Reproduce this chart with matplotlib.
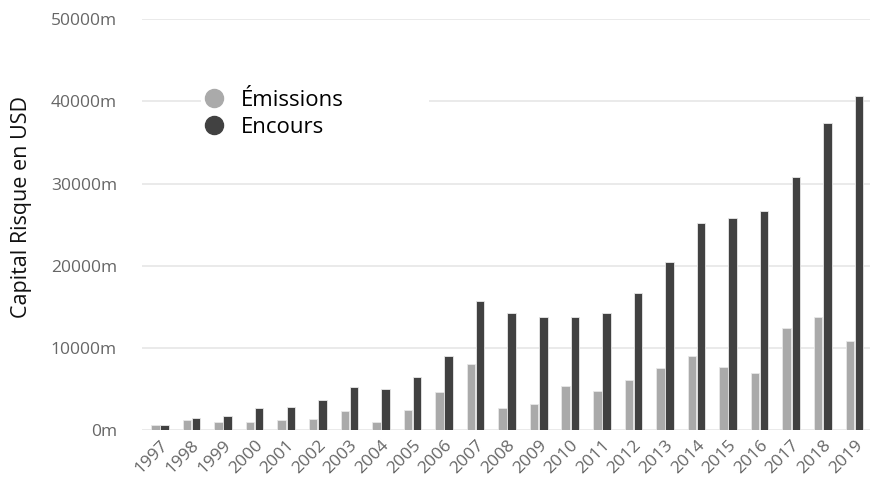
import matplotlib
matplotlib.use("Agg")
import matplotlib.pyplot as plt
from matplotlib.lines import Line2D
from matplotlib.ticker import FuncFormatter
import numpy as np

plt.rcParams['font.family'] = ['Open Sans', 'DejaVu Sans']

years = [str(y) for y in range(1997, 2020)]

# values in millions USD
emissions = [600, 1200, 1000, 1000, 1200, 1300, 2300, 1000, 2400, 4600, 8100,
             2650, 3150, 5350, 4800, 6100, 7550, 9000, 7700, 7000, 12450,
             13700, 10850]
encours = [600, 1500, 1700, 2700, 2800, 3700, 5200, 5000, 6400, 9000, 15750,
           14300, 13700, 13700, 14300, 16700, 20500, 25200, 25850, 26600,
           30800, 37400, 40700]

c_emis = '#aaaaaa'
c_enc = '#414141'


def main():

    fig = plt.figure(figsize=(8.71, 4.8), dpi=100)
    ax = fig.add_axes([0.163, 0.104, 0.836, 0.856])

    x = np.arange(len(years))
    w = 0.27

    ax.bar(x - w / 2 - 0.01, emissions, width=w, color=c_emis,
           edgecolor='#e8e8e8', linewidth=0.6, zorder=3)
    ax.bar(x + w / 2 + 0.01, encours, width=w, color=c_enc,
           edgecolor='#e8e8e8', linewidth=0.6, zorder=3)

    ax.set_ylim(0, 50000)
    ax.set_xlim(-0.57, 22.5)
    ax.set_yticks(np.arange(0, 50001, 10000))
    ax.yaxis.set_major_formatter(FuncFormatter(lambda v, p: f'{int(v)}m'))
    ax.grid(axis='y', color='#e6e6e6', linewidth=1.2, zorder=0)
    ax.set_axisbelow(True)

    ax.set_xticks(x)
    ax.set_xticklabels(years, rotation=45, ha='right', rotation_mode='anchor')

    for s in ax.spines.values():
        s.set_visible(False)

    ax.tick_params(axis='both', length=0, colors='#666666', labelsize=12.5)
    ax.tick_params(axis='y', pad=18)
    ax.tick_params(axis='x', pad=5)

    ax.set_ylabel('Capital Risque en USD', fontsize=15.5, color='#111111')
    ax.yaxis.set_label_coords(-0.151, 0.543)

    handles = [
        Line2D([], [], marker='o', linestyle='', markersize=13, color=c_emis),
        Line2D([], [], marker='o', linestyle='', markersize=13, color=c_enc),
    ]
    leg = ax.legend(handles, ['Émissions', 'Encours'], loc='upper left',
                    bbox_to_anchor=(0.218, 0.845, 0.287, 0.0),
                    bbox_transform=fig.transFigure, mode='expand',
                    frameon=True, fontsize=16, handletextpad=0.8,
                    labelspacing=0.25, borderpad=0.2, handlelength=0.8)
    leg.get_frame().set_edgecolor('none')
    leg.get_frame().set_facecolor('white')
    leg.get_frame().set_alpha(1)
    leg.set_zorder(5)

    fig.savefig('out.png', dpi=100)


if __name__ == "__main__":

    main()
